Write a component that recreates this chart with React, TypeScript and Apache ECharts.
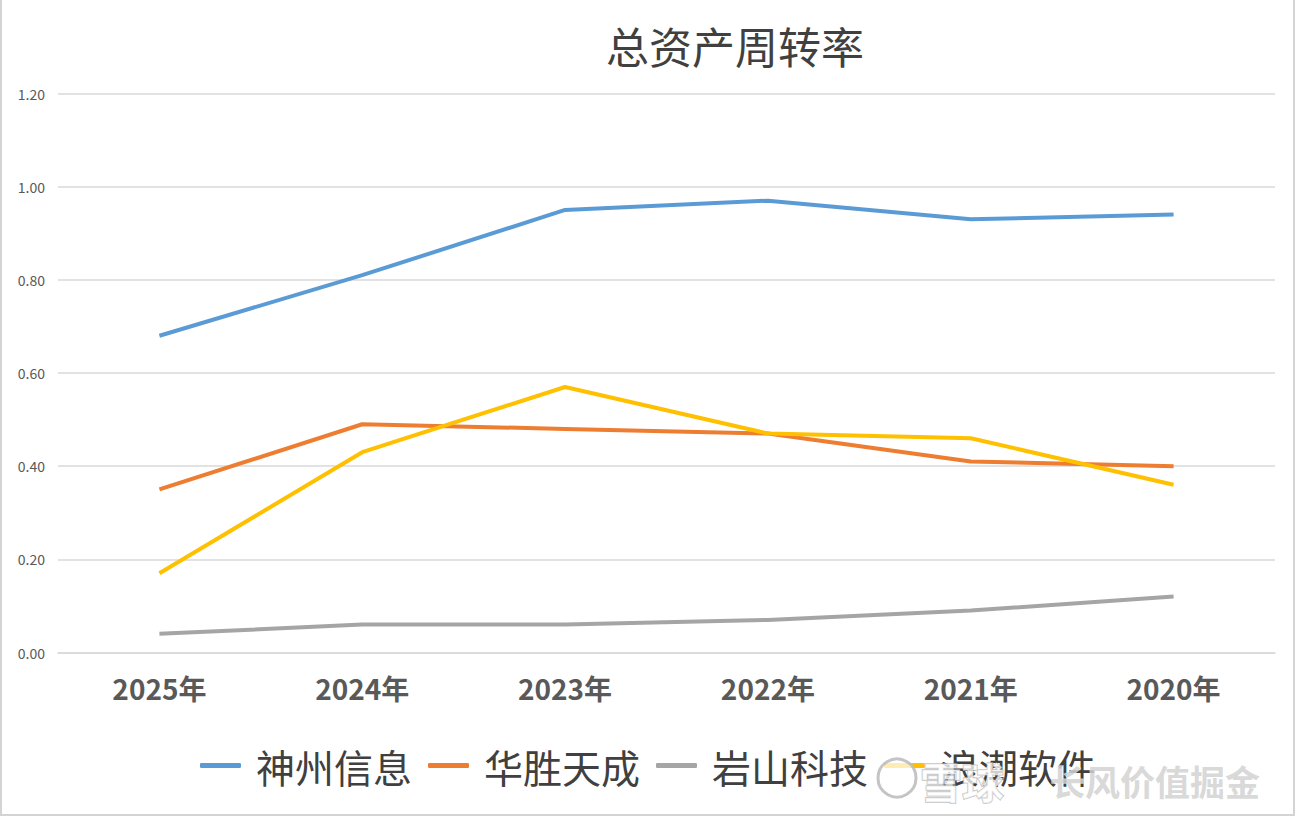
import React, { useEffect, useRef } from "react";
import * as echarts from "echarts";

const categories = ["2025年", "2024年", "2023年", "2022年", "2021年", "2020年"];
const seriesNames = ["神州信息", "华胜天成", "岩山科技", "浪潮软件"];
const shenzhou = [0.68, 0.81, 0.95, 0.97, 0.93, 0.94];
const huasheng = [0.35, 0.49, 0.48, 0.47, 0.41, 0.4];
const yanshan = [0.04, 0.06, 0.06, 0.07, 0.09, 0.12];
const langchao = [0.17, 0.43, 0.57, 0.47, 0.46, 0.36];
const colors = ["#5b9bd5", "#ed7d31", "#a5a5a5", "#ffc000"];

const FONT = '"Noto Sans CJK SC", "Noto Sans", sans-serif';

export default function App() {
  const ref = useRef<HTMLDivElement>(null);
  useEffect(() => {
    document.body.style.margin = "0";
    const chart = echarts.init(ref.current!, null, { renderer: "svg" });
    const data = [shenzhou, huasheng, yanshan, langchao];
    chart.setOption({
      animation: false,
      backgroundColor: "#ffffff",
      title: {
        text: "总资产周转率",
        left: 730,
        textAlign: "center",
        top: 18,
        textStyle: { fontFamily: FONT, fontSize: 43, fontWeight: "normal", color: "#404040" },
      },
      grid: { left: 58, right: 21, top: 93.5, bottom: 167.5 },
      xAxis: {
        type: "category",
        data: categories,
        axisLine: { lineStyle: { color: "#d9d9d9", width: 1.5 } },
        axisTick: { show: false },
        axisLabel: { fontFamily: FONT, fontSize: 28, fontWeight: "bold", color: "#595959", margin: 21 },
      },
      yAxis: {
        type: "value",
        min: 0,
        max: 1.2,
        interval: 0.2,
        axisLine: { show: false },
        axisTick: { show: false },
        axisLabel: {
          fontFamily: FONT,
          fontSize: 14,
          color: "#595959",
          margin: 13,
          formatter: (v: number) => v.toFixed(2),
        },
        splitLine: { lineStyle: { color: "#d9d9d9", width: 1.5 } },
      },
      legend: {
        bottom: 30,
        left: "center",
        icon: "roundRect",
        itemWidth: 41,
        itemHeight: 5,
        itemGap: 16,
        data: seriesNames,
        textStyle: { fontFamily: FONT, fontSize: 39, color: "#404040", padding: [0, 0, 0, 10] },
      },
      series: seriesNames.map((name, i) => ({
        name,
        type: "line",
        data: data[i],
        showSymbol: false,
        symbol: "none",
        lineStyle: { color: colors[i], width: 4 },
        itemStyle: { color: colors[i] },
      })),
      graphic: [
        {
          type: "rect",
          shape: { x: 1, y: -5, width: 1293, height: 820 },
          style: { fill: "none", stroke: "#d4d4d4", lineWidth: 2 },
          silent: true,
        },
        {
          type: "circle",
          shape: { cx: 897, cy: 778, r: 19 },
          style: { fill: "rgba(255,255,255,0.7)", stroke: "rgba(190,190,190,0.9)", lineWidth: 3 },
          silent: true,
          z: 100,
        },
        {
          type: "text",
          x: 920,
          y: 780,
          style: {
            text: "雪球",
            fontFamily: FONT,
            fontSize: 42,
            fontWeight: "bold",
            fill: "rgba(255,255,255,0.75)",
            stroke: "rgba(180,180,180,0.8)",
            lineWidth: 1.5,
            verticalAlign: "middle",
          },
          silent: true,
          z: 100,
        },
        {
          type: "text",
          x: 1050,
          y: 780,
          style: {
            text: "长风价值掘金",
            fontFamily: FONT,
            fontSize: 35,
            fontWeight: "bold",
            fill: "rgba(210,210,210,0.85)",
            stroke: "rgba(255,255,255,0.6)",
            lineWidth: 1,
            verticalAlign: "middle",
          },
          silent: true,
          z: 100,
        },
      ],
    });
    return () => chart.dispose();
  }, []);
  return <div ref={ref} style={{ width: 1296, height: 820 }} />;
}
